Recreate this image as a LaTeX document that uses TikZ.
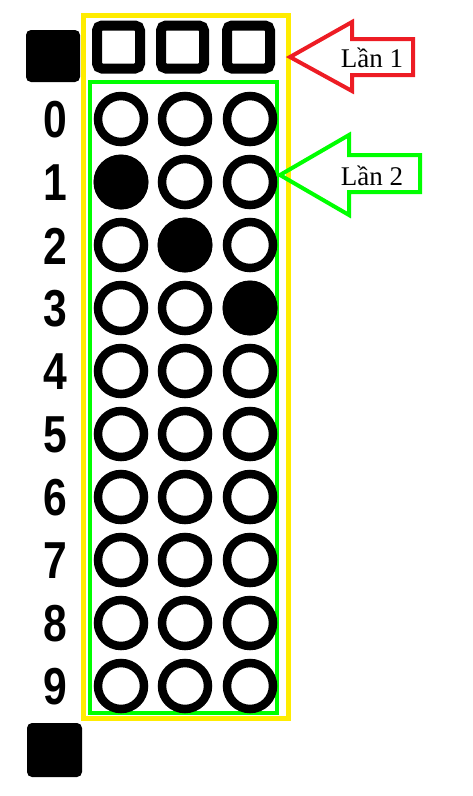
\documentclass[tikz,border=0pt]{standalone}
\usepackage{fontspec}
\setmainfont{Liberation Serif}
\newfontfamily\digitfont{Liberation Sans}
\definecolor{ylw}{RGB}{255,236,0}
\definecolor{grn}{RGB}{0,255,0}
\definecolor{rd}{RGB}{237,28,36}
\begin{document}
\begin{tikzpicture}[x=1pt,y=-1pt,
  blk/.style={fill=black,rounded corners=5pt},
  sq/.style={draw=black,line width=10pt,rounded corners=5pt},
  bub/.style={draw=black,line width=8.5pt},
  filledbub/.style={fill=black},
  digit/.style={font=\digitfont\bfseries\fontsize{52}{52}\selectfont,inner sep=0pt,xscale=0.82},
  lbl/.style={font=\fontsize{27}{27}\selectfont,inner sep=0pt}]
\useasboundingbox (0,0) rectangle (473,796);
% black markers
\fill[blk] (26,30) rectangle (80,82);
\fill[blk] (27,723) rectangle (82,777);
% frames
\draw[ylw,line width=5pt] (83,15) rectangle (288,718);
\draw[grn,line width=4.5pt] (90,82) rectangle (277,713);
% top squares
\foreach \x in {118.5,182.5,248.5}
  \draw[sq] (\x-21.5,25.5) rectangle (\x+21.5,68.5);
% digits and circles
\foreach \r in {0,...,9}{
  \node[digit] (d\r) at (55,120+63*\r) {\r};
  \foreach \x/\c in {121/1,185/2,250/3}{
    \draw[bub] (\x,119+63*\r) circle (23);
  }
}
\fill[filledbub] (121,182) circle (27.5);
\fill[filledbub] (185,245) circle (27.5);
\fill[filledbub] (250,308) circle (27.5);
% red arrow
\draw[rd,line width=4pt,line join=miter] (290,57) -- (352,22) -- (352,39) -- (413,39) -- (413,75) -- (352,75) -- (352,91) -- cycle;
\node[lbl] (l1) at (372,58) {Lần 1};
% green arrow
\draw[grn,line width=4pt,line join=miter] (280,175) -- (349,135) -- (349,155) -- (420,155) -- (420,192) -- (349,192) -- (349,215) -- cycle;
\node[lbl] (l2) at (372,176) {Lần 2};
\end{tikzpicture}
\end{document}
